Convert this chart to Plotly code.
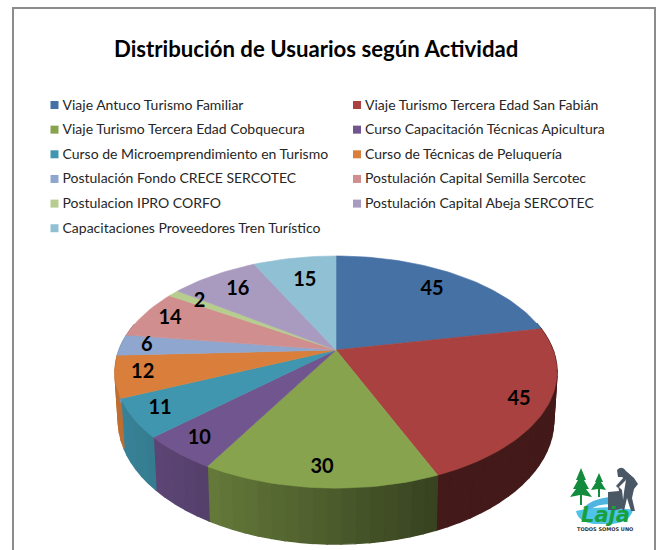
import math
import plotly.graph_objects as go

title = "Distribución de Usuarios según Actividad"
categories = [
    "Viaje Antuco Turismo Familiar", "Viaje Turismo Tercera Edad San Fabián",
    "Viaje Turismo Tercera Edad Cobquecura", "Curso Capacitación Técnicas Apicultura",
    "Curso de Microemprendimiento en Turismo", "Curso de Técnicas de Peluquería",
    "Postulación Fondo CRECE SERCOTEC", "Postulación Capital Semilla Sercotec",
    "Postulacion IPRO CORFO", "Postulación Capital Abeja SERCOTEC",
    "Capacitaciones Proveedores Tren Turístico",
]
values = [45, 45, 30, 10, 11, 12, 6, 14, 2, 16, 15]
colors = ["#4671a5", "#a8413f", "#87a34e", "#71558f", "#4096ae", "#d97f3b",
          "#8fa6cf", "#d08f8e", "#b7cd8f", "#a99bc0", "#90c0d4"]

CX, AY, R, H, K, D, SHRINK = 336, 350, 217, 111.9, 0.19, 47, 0.985
TOTAL = sum(values)


def project(theta, r=1.0, bottom=False):
    u, v = r * math.sin(theta), r * math.cos(theta)
    w = 1 / (1 + K * v)
    if bottom:
        return CX + R * u * w * SHRINK, AY - H * v * w * SHRINK + D * w
    return CX + R * u * w, AY - H * v * w


def shade(hex_color, f):
    rgb = [int(hex_color[i:i + 2], 16) for i in (1, 3, 5)]
    return "rgb(%d,%d,%d)" % tuple(round(c * f) for c in rgb)


fig = go.Figure()
slices, cum = [], 0
for value, color in zip(values, colors):
    a0 = cum / TOTAL * 2 * math.pi
    cum += value
    slices.append((a0, cum / TOTAL * 2 * math.pi, color, value))


def poly(xs, ys, color, width=0.6):
    fig.add_trace(go.Scatter(x=xs, y=ys, mode="lines", fill="toself", fillcolor=color,
                             line=dict(color=color, width=width), hoverinfo="skip", showlegend=False))


# side wall
for a0, a1, color, _ in slices:
    steps = max(2, int((a1 - a0) / math.radians(3)))
    for i in range(steps):
        t0 = a0 + (a1 - a0) * i / steps
        t1 = a0 + (a1 - a0) * (i + 1) / steps
        if math.cos((t0 + t1) / 2) > 0.25:
            continue
        p0, p1 = project(t0), project(t1)
        q1, q0 = project(t1, bottom=True), project(t0, bottom=True)
        xm = (p0[0] + p1[0]) / 2
        f = 0.87 - 0.47 * min(1, max(0, (xm - 120) / 320))
        poly([p0[0], p1[0], q1[0], q0[0], p0[0]], [p0[1], p1[1], q1[1], q0[1], p0[1]],
             shade(color, f), width=1.4)

# top faces
for a0, a1, color, _ in slices:
    n = max(2, int((a1 - a0) / math.radians(1.5)))
    pts = [project(a0 + (a1 - a0) * i / n) for i in range(n + 1)]
    xs = [CX] + [p[0] for p in pts] + [CX]
    ys = [AY] + [p[1] for p in pts] + [AY]
    poly(xs, ys, color)

# data labels
lx, ly, lt = [], [], []
for a0, a1, _, value in slices:
    mid = (a0 + a1) / 2
    c = max(0.0, math.cos(mid))
    x, y = project(mid, 0.88 - 0.17 * c * c)
    lx.append(x); ly.append(y); lt.append(str(value))
fig.add_trace(go.Scatter(x=lx, y=ly, mode="text", text=lt, hoverinfo="skip", showlegend=False,
                         textfont=dict(family="Lato", size=20, color="black", weight="bold")))

# legend
ROW0, ROWH = 105, 24.65
mx, my, mc, tx_l, ty_l, tt_l = [], [], [], [], [], []
for i, (cat, color) in enumerate(zip(categories, colors)):
    col, row = i % 2, i // 2
    x0 = 54.5 if col == 0 else 357
    y0 = ROW0 + row * ROWH
    mx.append(x0); my.append(y0); mc.append(color)
    tx_l.append(x0 + 8); ty_l.append(y0 + 1); tt_l.append(cat)
fig.add_trace(go.Scatter(x=mx, y=my, mode="markers", hoverinfo="skip", showlegend=False,
                         marker=dict(symbol="square", size=8, color=mc, line=dict(width=0))))
fig.add_trace(go.Scatter(x=tx_l, y=ty_l, mode="text", text=tt_l, textposition="middle right",
                         hoverinfo="skip", showlegend=False,
                         textfont=dict(family="Lato", size=14, color="#262626")))

# title
fig.add_annotation(x=316, y=48, text="<b>" + title + "</b>", showarrow=False, xanchor="center",
                   yanchor="middle", font=dict(family="Lato", size=22.2, color="black"))

# frame (left, top, right edges of the page image)
frame = dict(color="#8c8c8c", width=2)
shapes = [
    dict(type="line", x0=13, x1=13, y0=8, y1=550, line=frame),
    dict(type="line", x0=12, x1=656, y0=8, y1=8, line=frame),
    dict(type="line", x0=655, x1=655, y0=8, y1=550, line=frame),
]

# logo
GREEN, DARK = "#128c3c", "#4a5866"
def path(d, fill):
    shapes.append(dict(type="path", path=d, fillcolor=fill, line=dict(width=0)))
path("M576,511 Q604,504 633,510 Q630,522 612,524 L594,524 Q578,522 576,511 Z", "#4fc3e8")
path("M583,508 Q592,499 609,497 L611,504 Q596,504 590,510 Z", "#4fb4e0")
path("M581,468 L586,480 L584,480 L589,489 L586,489 L592,497 L582,495 L582,505 L580,505 L580,495 L570,497 L576,489 L573,489 L578,480 L576,480 Z", GREEN)
path("M599,473 L603,482 L601,482 L606,490 L600,489 L600,497 L598,497 L598,489 L591,490 L596,482 L595,482 Z", GREEN)
path("M617,470 Q622,465 626,471 L634,478 L638,484 L634,489 L632,498 L635,511 L631,511 L627,498 L624,511 L622,509 L624,492 L626,480 L622,477 L618,477 Z", DARK)
path("M626,480 L618,488 L616,486 L624,477 Z", DARK)
path("M608,492 L619,491 L618,486 L622,490 L624,508 L616,510 L608,510 Z", DARK)
fig.add_annotation(x=605, y=515, text="<b><i>Laja</i></b>", showarrow=False,
                   font=dict(family="DejaVu Sans", size=21, color="#18a03c"))
fig.add_annotation(x=605, y=529, text="<b>TODOS SOMOS UNO</b>", showarrow=False,
                   font=dict(family="DejaVu Sans", size=5, color="#333333"))

fig.update_layout(
    width=659, height=550, margin=dict(l=0, r=0, t=0, b=0), showlegend=False,
    paper_bgcolor="white", plot_bgcolor="white", shapes=shapes,
    xaxis=dict(range=[0, 659], visible=False, fixedrange=True),
    yaxis=dict(range=[550, 0], visible=False, fixedrange=True),
)
fig.write_html("out.html", post_script="document.body.style.margin='0';", config=dict(displayModeBar=False))
